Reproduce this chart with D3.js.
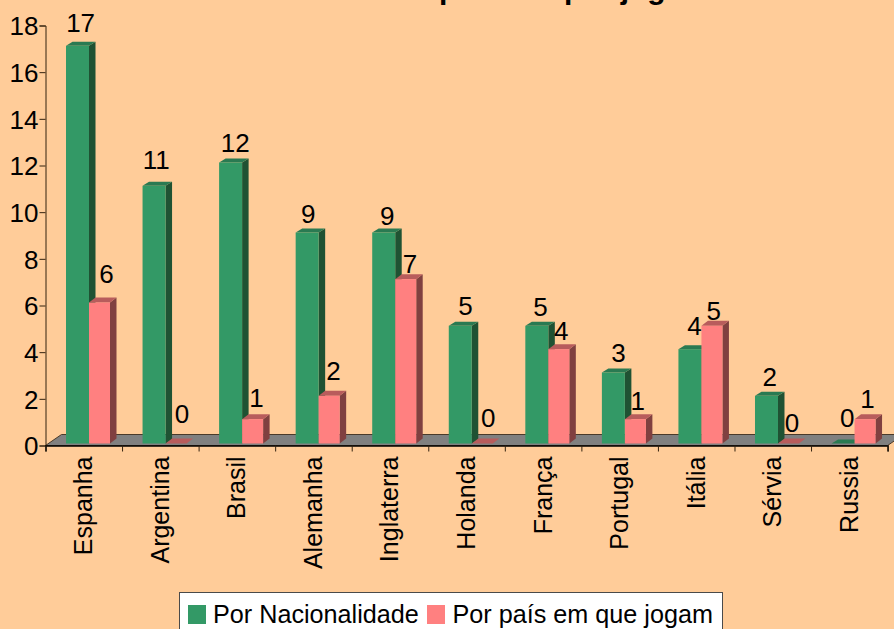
<!DOCTYPE html>
<html>
<head>
<meta charset="utf-8">
<script src="https://cdn.jsdelivr.net/npm/d3@7"></script>
<style>
body { margin: 0; background: #FFCC99; }
svg { display: block; font-family: "Liberation Sans", Arial, sans-serif; }
</style>
</head>
<body>
<svg width="894" height="629"></svg>
<script>
var categories = ["Espanha", "Argentina", "Brasil", "Alemanha", "Inglaterra", "Holanda", "França", "Portugal", "Itália", "Sérvia", "Russia"];
var porNacionalidade = [17, 11, 12, 9, 9, 5, 5, 3, 4, 2, 0];
var porPais = [6, 0, 1, 2, 7, 0, 4, 1, 5, 0, 1];
var seriesNames = ["Por Nacionalidade", "Por país em que jogam"];
var yTicks = [0, 2, 4, 6, 8, 10, 12, 14, 16, 18];

// afinacao manual dos rotulos de valor, colocados a mao no original
var labelGap = [
    [14, 17, 11, 10, 7.5, 11, 10, 11, 14, 10, 16],
    [19.5, 20, 12.5, 16, 6, 16, 9, 9, 6, 11, 11]
];
var labelShift = [
    [3.5, 2.5, 5, 1.5, 4, 5.5, 4, 5.5, 5, 3.5, 4.5],
    [7, 6, 4, 4.5, 4.5, 6, 2.5, 2.5, 2, 3.5, 2.5]
];

var svg = d3.select("svg");
var fontSize = 25;

var x = d3.scaleBand().domain(categories).range([45.5, 887.6]).paddingInner(0).paddingOuter(0);
var xInner = d3.scaleBand().domain([0, 1]).range([20.5, 65]);
var xEdges = d3.scaleLinear().domain([0, categories.length]).range([45.5, 887.6]);
var y = d3.scaleLinear().domain([0, 18]).range([445.5, 25.5]);

var depthX = 6.5, depthY = [4, 5];
var floorX = 16, floorY = 11;
var liftTop = 3, liftBase = 2;

var colors = [
    { front: "#339966", top: "#2A7A52", side: "#1F5233" },
    { front: "#FF8080", top: "#B85C5C", side: "#804040" }
];

svg.append("rect").attr("width", 894).attr("height", 629).attr("fill", "#FFCC99");

// titulo cortado pelo topo da imagem, so as descendentes aparecem
svg.append("text")
    .attr("x", 374)
    .attr("y", -1)
    .attr("font-size", 30)
    .attr("font-weight", "bold")
    .attr("fill", "#000")
    .text("Campeonato por jogador");

// chao
svg.append("polygon")
    .attr("points", [
        [xEdges(0), y(0)],
        [xEdges(0) + floorX, y(0) - floorY],
        [xEdges(11) + floorX, y(0) - floorY],
        [xEdges(11), y(0)]
    ].join(" "))
    .attr("fill", "#808080")
    .attr("stroke", "#4A3A2A")
    .attr("stroke-width", 1);

// eixos
var yAxis = d3.axisLeft(y).tickValues(yTicks).tickSize(6).tickPadding(1);
var gy = svg.append("g").attr("transform", "translate(45.5,0)").call(yAxis);
gy.selectAll("text").attr("font-size", 26).attr("font-family", "Liberation Sans").attr("fill", "#000").attr("dy", "0.36em");
gy.selectAll("line").attr("stroke", "#33220F");
gy.select(".domain").attr("stroke", "#33220F");

var bars = svg.append("g");

function drawBar(g, cat, s, value) {
    // a serie verde e um pouco mais larga que a rosa
    var x0 = x(cat) + xInner(s) + (s ? 0.75 : 0);
    var w = xInner.bandwidth() + (s ? -1.25 : 0.75);
    var base = y(0) - liftBase;
    var top = value > 0 ? y(value) - liftTop : base;
    var c = colors[s];
    var dy = depthY[s];
    if (value > 0) {
        g.append("polygon")
            .attr("points", [[x0 + w, top], [x0 + w + depthX, top - dy], [x0 + w + depthX, base - dy], [x0 + w, base]].join(" "))
            .attr("fill", c.side);
    }
    g.append("polygon")
        .attr("points", [[x0, top], [x0 + depthX, top - dy], [x0 + w + depthX, top - dy], [x0 + w, top]].join(" "))
        .attr("fill", c.top);
    if (value > 0) {
        g.append("rect")
            .attr("x", x0)
            .attr("y", top)
            .attr("width", w)
            .attr("height", base - top)
            .attr("fill", c.front);
    }
}

categories.forEach(function (cat, i) {
    var g = bars.append("g");
    drawBar(g, cat, 0, porNacionalidade[i]);
    drawBar(g, cat, 1, porPais[i]);
});

// rotulos de valor
var labels = svg.append("g").attr("font-size", 26).attr("text-anchor", "middle").attr("fill", "#000");
[porNacionalidade, porPais].forEach(function (values, s) {
    labels.selectAll(null)
        .data(values)
        .enter()
        .append("text")
        .attr("x", function (d, i) { return x(categories[i]) + xInner(s) + xInner.bandwidth() / 2 + labelShift[s][i]; })
        .attr("y", function (d, i) { return y(d) - liftTop - labelGap[s][i]; })
        .text(function (d) { return d; });
});

// eixo x: marcas entre as categorias
var xAxis = d3.axisBottom(xEdges).tickValues(d3.range(0, categories.length + 1)).tickSize(6).tickFormat("");
var gx = svg.append("g").attr("transform", "translate(0," + y(0) + ")").call(xAxis);
gx.selectAll("line").attr("stroke", "#33220F");
gx.select(".domain").attr("stroke", "#000").attr("stroke-width", 1.5);

svg.append("g").selectAll("text")
    .data(categories)
    .enter()
    .append("text")
    .attr("transform", function (d) { return "translate(" + (x(d) + x.bandwidth() / 2 + 8.5) + ",456.5) rotate(-90)"; })
    .attr("text-anchor", "end")
    .attr("font-size", fontSize)
    .attr("fill", "#000")
    .text(function (d) { return d; });

// legenda
var legend = svg.append("g");
legend.append("rect")
    .attr("x", 179.5).attr("y", 592.5).attr("width", 543).attr("height", 50)
    .attr("fill", "#fff").attr("stroke", "#4A4A4A");
var legendItems = [[188, 213], [427, 452.5]];
seriesNames.forEach(function (name, s) {
    legend.append("rect")
        .attr("x", legendItems[s][0]).attr("y", 605)
        .attr("width", 18).attr("height", 19)
        .attr("fill", colors[s].front);
    legend.append("text")
        .attr("x", legendItems[s][1]).attr("y", 622.5)
        .attr("font-size", 25.2).attr("fill", "#000")
        .text(name);
});
</script>
</body>
</html>
